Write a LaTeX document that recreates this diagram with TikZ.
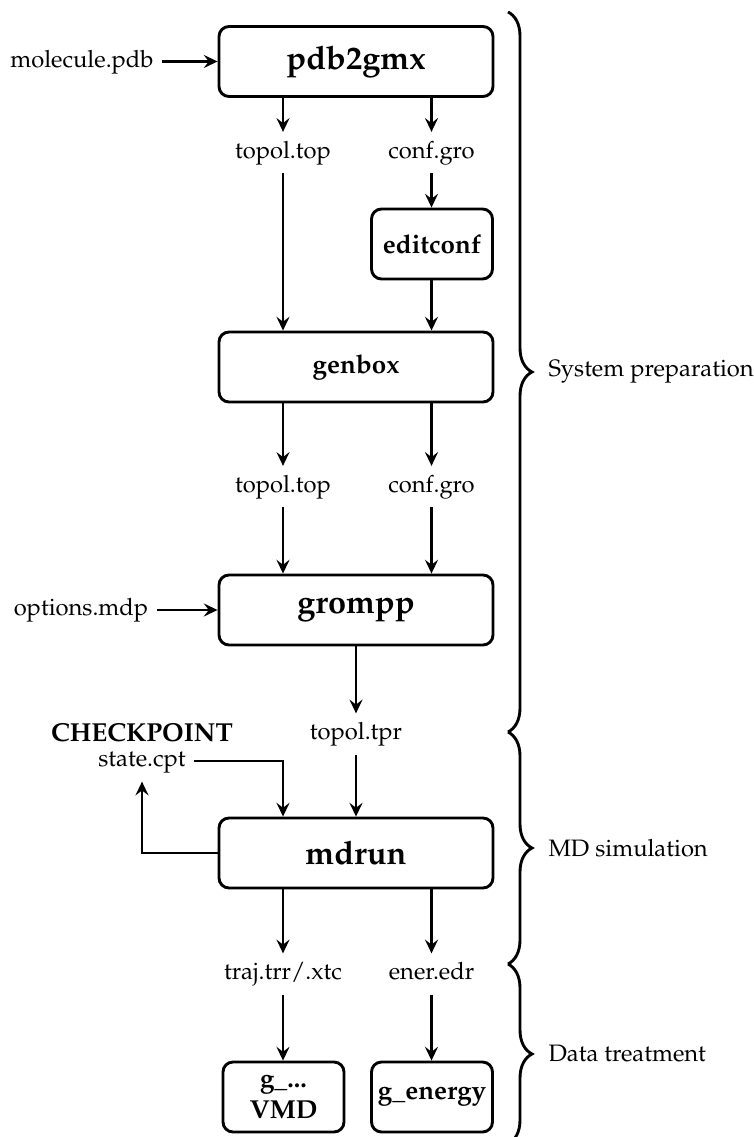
\documentclass[tikz,border=0pt]{standalone}
\usepackage[T1]{fontenc}
\usepackage{mathpazo}
\usetikzlibrary{arrows.meta,decorations.pathreplacing}
\begin{document}
\begin{tikzpicture}[x=0.4pt,y=-0.4pt,
  box/.style={draw,line width=1.15pt,rounded corners=4pt,minimum height=28pt,font=\fontsize{10.4pt}{12.4pt}\selectfont\bfseries,align=center,inner sep=0pt},
  bigbox/.style={box,minimum width=109.6pt,font=\fontsize{13pt}{15pt}\selectfont\bfseries},
  midbox/.style={box,minimum width=109.6pt},
  smallbox/.style={box,minimum width=48.4pt},
  lbl/.style={font=\fontsize{9.5pt}{11.4pt}\selectfont,text height=7pt,text depth=2.5pt,inner sep=3.3pt},
  arr/.style={line width=1.1pt,-{Stealth[length=5.5pt,width=5.2pt,inset=2pt]}},
  brc/.style={line width=1.15pt,decorate,decoration={brace,amplitude=9.6pt}},
  sect/.style={font=\fontsize{9.5pt}{11.4pt}\selectfont,anchor=west,inner sep=0pt}]
\useasboundingbox (0,0) rectangle (753,1137);
% boxes
\node[bigbox] (pdb) at (356,61.5) {pdb2gmx};
\node[smallbox] (edit) at (432,244) {editconf};
\node[midbox] (gen) at (356,367) {genbox};
\node[bigbox] (grompp) at (356,610) {grompp};
\node[bigbox] (mdrun) at (356,853) {mdrun};
\node[smallbox] (gvmd) at (283.5,1097) {g\_...\\VMD};
\node[smallbox] (gene) at (432,1097) {g\_energy};
% labels
\node[lbl] (mol) at (82,61.5) {molecule.pdb};
\node[lbl] (top1) at (283,152.5) {topol.top};
\node[lbl] (conf1) at (431.5,152.5) {conf.gro};
\node[lbl] (top2) at (283,486.5) {topol.top};
\node[lbl] (conf2) at (431.5,486.5) {conf.gro};
\node[lbl] (opt) at (81,610) {options.mdp};
\node[lbl] (tpr) at (356,734) {topol.tpr};
\node[inner sep=0pt,font=\fontsize{10.4pt}{12.4pt}\selectfont\bfseries] (chk) at (142,733) {CHECKPOINT};
\node[lbl] (state) at (142,761) {state.cpt};
\node[lbl] (traj) at (283,974) {traj.trr/.xtc};
\node[lbl] (ener) at (431.5,974) {ener.edr};
% connectors
\draw[arr] (mol.east) -- (mol.east -| pdb.west);
\draw[arr] (top1 |- pdb.south) -- (top1.north);
\draw[arr] (conf1 |- pdb.south) -- (conf1.north);
\draw[arr] (top1.south) -- (top1.south |- gen.north);
\draw[arr] (conf1.south) -- (conf1.south |- edit.north);
\draw[arr] (conf1 |- edit.south) -- (conf1 |- gen.north);
\draw[arr] (top2 |- gen.south) -- (top2.north);
\draw[arr] (conf2 |- gen.south) -- (conf2.north);
\draw[arr] (top2.south) -- (top2.south |- grompp.north);
\draw[arr] (conf2.south) -- (conf2.south |- grompp.north);
\draw[arr] (opt.east) -- (opt.east -| grompp.west);
\draw[arr] (grompp.south) -- (tpr.north);
\draw[arr] (tpr.south) -- (mdrun.north);
\draw[arr] (state.east) -| (top1 |- mdrun.north);
\draw[arr] (mdrun.west) -| (state.south);
\draw[arr] (traj |- mdrun.south) -- (traj.north);
\draw[arr] (ener |- mdrun.south) -- (ener.north);
\draw[arr] (traj.south) -- (traj.south |- gvmd.north);
\draw[arr] (ener.south) -- (ener.south |- gene.north);
% braces
\coordinate (b0) at (508,12);
\coordinate (b1) at (508,732);
\coordinate (b2) at (508,964);
\coordinate (b3) at (508,1144);
\draw[brc] (b0) -- (b1);
\draw[brc] (b1) -- (b2);
\draw[brc] (b2) -- (b3);
\node[sect] (s1) at (548,372) {System preparation};
\node[sect] (s2) at (548,848) {MD simulation};
\node[sect] (s3) at (548,1054) {Data treatment};
\end{tikzpicture}
\end{document}
